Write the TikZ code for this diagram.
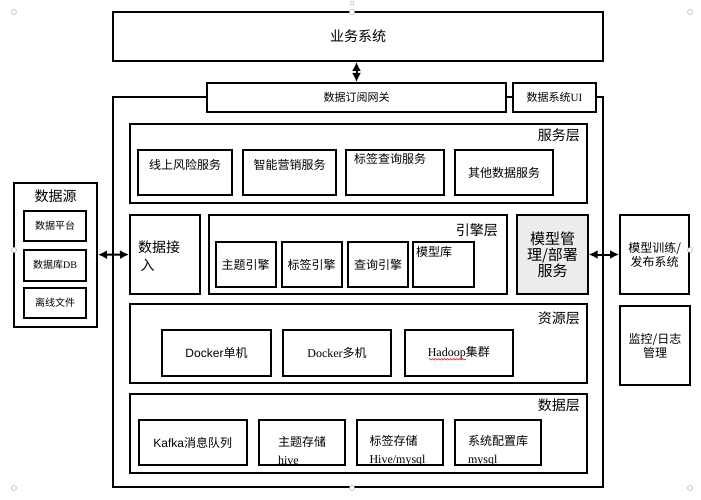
\documentclass[tikz,border=0pt]{standalone}
\usepackage{fontspec}
\setmainfont{Noto Sans CJK SC}
\newfontfamily\tms{Liberation Serif}
\newfontfamily\ari{Liberation Sans}
\usetikzlibrary{arrows.meta,positioning,decorations.pathmorphing}

\begin{document}
\begin{tikzpicture}[x=1pt,y=-1pt,font=\fontsize{12}{14}\selectfont,
    box/.style={draw,line width=2pt,fill=white,inner sep=0pt},
    kbox/.style={box,fill=none},
    ceng/.style={anchor=north east,inner sep=0pt,font=\fontsize{14}{16}\selectfont},
    darr/.style={line width=2pt,{Latex[length=9pt,width=9pt]}-{Latex[length=9pt,width=9pt]}},
    handle/.style={draw=gray!60,fill=white,line width=0.5pt,circle,inner sep=0pt,minimum size=5pt}]
        \useasboundingbox (0,0) rectangle (701,500);
        %外框
        \node[kbox,minimum width=490pt,minimum height=390pt] (kuang) at (358,292) {};
        %业务系统;
        \node[box,minimum width=490pt,minimum height=49pt,font=\fontsize{14}{16}\selectfont] (ywxt) at (358,36.5) {业务系统};
        \node[box,minimum width=299pt,minimum height=29pt,font=\fontsize{11}{13}\selectfont] (dywg) at (356.5,97.5) {数据订阅网关};
        \node[box,minimum width=83pt,minimum height=29pt,font=\fontsize{11}{13}\selectfont] (ui) at (554.5,97.5) {数据系统{\tms UI}};
        \draw [darr] (dywg.north) -- (dywg.north |- ywxt.south);
        %服务层
        \node[box,minimum width=457pt,minimum height=79pt] (fwc) at (358.5,163.5) {};
        \node[ceng] (fwct) at ([xshift=-8pt,yshift=-6pt]fwc.north east) {服务层};
        \node[box,minimum width=94pt,minimum height=45pt] (fw1) at (185,172.5) {};
        \node (fw1t) at ([yshift=7.5pt]fw1.center) {线上风险服务};
        \node[box,minimum width=93pt,minimum height=45pt] (fw2) at (289.5,172.5) {};
        \node (fw2t) at ([yshift=7.5pt]fw2.center) {智能营销服务};
        \node[box,minimum width=98pt,minimum height=45pt] (fw3) at (395,172.5) {};
        \node (fw3t) at (390,159) {标签查询服务};
        \node[box,minimum width=98pt,minimum height=45pt] (fw4) at (504,172.5) {其他数据服务};
        %引擎层
        \node[box,minimum width=70pt,minimum height=79pt] (jr) at (165,254.5) {};
        \node[align=left,anchor=west,inner sep=0pt,font=\fontsize{14}{18}\selectfont] (jrt) at ([xshift=9pt,yshift=-1.5pt]jr.west) {数据接\\\,入};
        \node[box,minimum width=298pt,minimum height=79pt] (yqc) at (358,254.5) {};
        \node[ceng] (yqct) at ([xshift=-10pt,yshift=-9pt]yqc.north east) {引擎层};
        \node[box,minimum width=60pt,minimum height=45pt] (yq1) at (245.7,264.5) {主题引擎};
        \node[box,minimum width=60pt,minimum height=45pt] (yq2) at (311.5,264.5) {标签引擎};
        \node[box,minimum width=60pt,minimum height=45pt] (yq3) at (378,264.5) {查询引擎};
        \node[box,minimum width=61pt,minimum height=45pt] (mxk) at (443.8,264.5) {};
        \node[anchor=west,inner sep=0pt] (mxkt) at (416,252) {模型库};
        \node[box,fill=gray!15,minimum width=70.4pt,minimum height=79pt,align=center,font=\fontsize{15}{16}\selectfont] (mxgl) at (552.5,254.5) {模型管\\理/部署\\服务};
        %右侧
        \node[box,minimum width=69.3pt,minimum height=79pt,align=center] (mxxl) at (654.7,254.5) {模型训练/\\发布系统};
        \node[box,minimum width=70pt,minimum height=79pt,align=center] (jk) at (655,345.5) {监控/日志\\管理};
        \draw [darr] (mxgl) -- (mxxl);
        %数据源
        \node[box,minimum width=83pt,minimum height=143.7pt] (sjy) at (55.5,254.8) {};
        \node[font=\fontsize{14}{16}\selectfont] (sjyt) at ([yshift=-14pt]sjy.north) {数据源};
        \node[box,minimum width=62pt,minimum height=30pt,font=\fontsize{10}{12}\selectfont] (sjy1) at (55,226) {数据平台};
        \node[box,minimum width=62pt,minimum height=31pt,font=\fontsize{10}{12}\selectfont] (sjy2) at (55,265) {数据库{\tms DB}};
        \node[box,minimum width=62pt,minimum height=30.6pt,font=\fontsize{10}{12}\selectfont] (sjy3) at (55,303) {离线文件};
        \draw [darr] (sjy) -- (jr);
        %资源层
        \node[box,minimum width=457pt,minimum height=79pt] (zyc) at (358.5,343.8) {};
        \node[ceng] (zyct) at ([xshift=-8pt,yshift=-8pt]zyc.north east) {资源层};
        \node[box,minimum width=108.4pt,minimum height=46pt] (zy1) at (216.5,353) {{\ari Docker}单机};
        \node[box,minimum width=108pt,minimum height=46pt] (zy2) at (337,353) {{\tms Docker}多机};
        \node[box,minimum width=107.7pt,minimum height=46pt] (zy3) at (458.8,353) {{\tms Hadoop}集群};
        \draw [red,line width=0.6pt,decorate,decoration={snake,amplitude=0.7pt,segment length=3pt}] ([xshift=-30pt,yshift=-2.5pt]zy3.base) -- ([xshift=7pt,yshift=-2.5pt]zy3.base);
        %数据层
        \node[box,minimum width=457pt,minimum height=78.7pt] (sjc) at (358.5,433.3) {};
        \node[ceng] (sjct) at ([xshift=-8pt,yshift=-6pt]sjc.north east) {数据层};
        \node[box,minimum width=108pt,minimum height=45pt] (sc1) at (192.7,442.5) {{\ari Kafka}消息队列};
        \node[align=left,font=\fontsize{12}{18}\selectfont] (sc2t) at (302,451) {主题存储\\{\tms hive}};
        \node[kbox,minimum width=85.7pt,minimum height=45pt] (sc2) at (302.2,442.5) {};
        \node[align=left,font=\fontsize{12}{18}\selectfont] (sc3t) at (397.5,451) {标签存储\\{\tms Hive/mysql}};
        \node[kbox,minimum width=85.4pt,minimum height=45pt] (sc3) at (400,442.5) {};
        \node[align=left,font=\fontsize{12}{18}\selectfont] (sc4t) at (498,451) {系统配置库\\{\tms mysql}};
        \node[kbox,minimum width=85.4pt,minimum height=45pt] (sc4) at (498,442.5) {};
        %选择框
        \foreach \hx/\hy [count=\i] in {14/12,352/12,690/12,14/250,690/250,14/488,352/488,690/488}
            \node[handle] (hd\i) at (\hx,\hy) {};
        \node[handle,minimum size=4pt] (hd0) at (352,3) {};
    \end{tikzpicture}
\end{document}
